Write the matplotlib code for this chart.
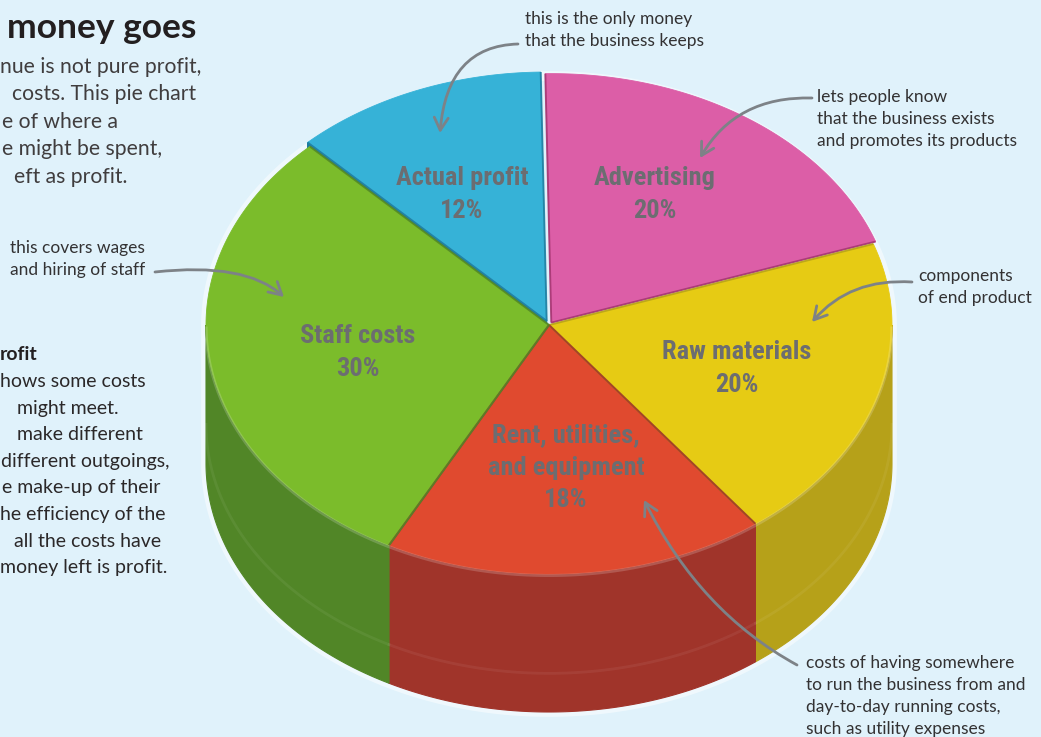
import numpy as np
import matplotlib
matplotlib.use("Agg")
import matplotlib.pyplot as plt
from matplotlib.patches import Polygon, FancyArrowPatch
from matplotlib.path import Path
from matplotlib import font_manager

# ---- data -------------------------------------------------------------
categories = ["Actual profit", "Advertising", "Raw materials",
              "Rent, utilities,\nand equipment", "Staff costs"]
shares = [12, 20, 20, 18, 30]          # percent of revenue
top_colors = ["#36B2D7", "#DC5EA7", "#E6CB14", "#E04A2F", "#7BBC2B"]
side_colors = ["#1F7C9E", "#A3346F", "#B6A119", "#A0342A", "#518627"]
explode_px = [6, 4, 0, 0, 0]

title_text = "money goes"
intro_lines = ["nue is not pure profit,", "costs. This pie chart",
               "e of where a", "e might be spent,", "eft as profit."]
intro_x = [0, 12, 2, 2, 14]
body_head = "rofit"
body_lines = ["hows some costs", " might meet.", " make different",
              "different outgoings,", "e make-up of their",
              "he efficiency of the", " all the costs have",
              "money left is profit."]
body_x = [0, 12, 12, 1, 2, 0, 9, 0]

notes = [
    (["this is the only money", "that the business keeps"], 525, 24),
    (["lets people know", "that the business exists",
      "and promotes its products"], 817, 102),
    (["this covers wages", "and hiring of staff"], 10, 253),
    (["components", "of end product"], 918, 281),
    (["costs of having somewhere", "to run the business from and",
      "day-to-day running costs,", "such as utility expenses"], 806, 668),
]
# (start, control, tip) of each pointer curve
pointers = [
    ((518, 44), (447, 46), (440, 133)),
    ((812, 98), (736, 96), (700, 158)),
    ((155, 272), (245, 262), (284, 297)),
    ((912, 282), (850, 278), (812, 322)),
    ((797, 665), (700, 612), (644, 500)),
]
label_pos = [(462, 185), (655, 185), (737, 359), (566, 442), (358, 343)]

# ---- fonts ------------------------------------------------------------
names = {f.name for f in font_manager.fontManager.ttflist}
body_font = "Lato" if "Lato" in names else "Open Sans"
cond_font, cond_stretch = "DejaVu Sans", "condensed"
for cand in ["Roboto Condensed", "Liberation Sans Narrow", "Open Sans Condensed"]:
    if cand in names:
        cond_font, cond_stretch = cand, "normal"
        break

# ---- figure -----------------------------------------------------------
W, H = 1041, 737
BG = "#E0F2FB"
fig = plt.figure(figsize=(W / 100, H / 100), dpi=100, facecolor=BG)
ax = fig.add_axes([0, 0, 1, 1])
ax.set_xlim(0, W)
ax.set_ylim(H, 0)
ax.set_facecolor(BG)
ax.axis("off")

CX, CY = 549, 325
RX, RY = 343, 249
DEPTH = 138
START = 134.2


def proj(theta, r=1.0, z=0.0, off=(0.0, 0.0)):
    t = np.radians(theta)
    return (CX + off[0] + RX * r * np.cos(t),
            CY + off[1] - RY * r * np.sin(t) + z)


def arc(a0, a1, z=0.0, off=(0.0, 0.0), n=160):
    th = np.linspace(a0, a1, n)
    x, y = proj(th, 1.0, z, off)
    return np.column_stack([x, y])


# wedge angles (clockwise from START)
bounds = START - np.concatenate([[0], np.cumsum(shares)]) * 3.6
wedges = []
for i, s in enumerate(shares):
    a0, a1 = bounds[i], bounds[i + 1]
    mid = np.radians((a0 + a1) / 2)
    off = (explode_px[i] * np.cos(mid), -explode_px[i] * np.sin(mid) * RY / RX)
    wedges.append((a0, a1, off))

# soft light halo round the whole solid
halo = np.vstack([arc(0, 180), arc(180, 360, DEPTH)])
ax.add_patch(Polygon(halo, closed=True, facecolor="none", edgecolor="white",
                     lw=7, alpha=0.5, zorder=1, joinstyle="round"))

# outer curved sides (front half only)
for i, (a0, a1, off) in enumerate(wedges):
    lo, hi = max(a1, -180.0), min(a0, 0.0)
    if lo >= hi:
        continue
    top = arc(hi, lo, 0, off)
    bot = arc(lo, hi, DEPTH, off)
    ax.add_patch(Polygon(np.vstack([top, bot]), closed=True,
                         facecolor=side_colors[i], edgecolor=side_colors[i],
                         lw=0.8, zorder=2))
    mid_line = arc(hi, lo, DEPTH * 0.72, off)
    ax.plot(mid_line[:, 0], mid_line[:, 1], color="white", alpha=0.06,
            lw=2, zorder=2.1)

# cut face of the lifted profit slice, visible next to staff costs
a0, a1, off = wedges[0]
face = [proj(a0, 0.0, 0, off), proj(a0, 1.0, 0, off),
        proj(a0, 1.0, DEPTH, off), proj(a0, 0.0, DEPTH, off)]
ax.add_patch(Polygon(face, closed=True, facecolor=side_colors[0],
                     edgecolor=side_colors[0], lw=0.8, zorder=2.5))

# top faces with darker radial seams
for i, (a0, a1, off) in enumerate(wedges):
    c = np.array(proj(0, 0.0, 0, off))
    pts = np.vstack([c, arc(a0, a1, 0, off)])
    ax.add_patch(Polygon(pts, closed=True, facecolor=top_colors[i],
                         edgecolor=top_colors[i], lw=0.6, zorder=3))
    for a in (a0, a1):
        ox, oy = proj(a, 1.0, 0, off)
        ax.plot([c[0], ox], [c[1], oy], color=side_colors[i], lw=1.4,
                alpha=0.85, zorder=3.1, solid_capstyle="butt")
    lo, hi = max(a1, -180.0), min(a0, 0.0)
    if lo < hi:
        rim = arc(hi, lo, 1.5, off)
        ax.plot(rim[:, 0], rim[:, 1], color="white", alpha=0.18, lw=2.2,
                zorder=3.2, solid_capstyle="butt")

# slice labels
LABEL_GREY = "#6C6D71"
for i, name in enumerate(categories):
    x, y = label_pos[i]
    lines = name.split("\n") + [f"{shares[i]}%"]
    for k, line in enumerate(lines):
        ax.text(x, y + k * 32.5, line, ha="center", va="baseline",
                fontsize=19, fontweight="bold", family=cond_font,
                fontstretch=cond_stretch, color=LABEL_GREY, zorder=5)

# pointers
ARROW_GREY = "#7D8287"
for p0, pc, p1 in pointers:
    path = Path([p0, pc, p1], [Path.MOVETO, Path.CURVE3, Path.CURVE3])
    ax.add_patch(FancyArrowPatch(path=path,
                                 arrowstyle="->,head_length=0.75,head_width=0.42",
                                 mutation_scale=12, lw=2, color=ARROW_GREY,
                                 shrinkA=0, shrinkB=0, zorder=6))

# annotations
TXT = "#333233"
for lines, x, y0 in notes:
    for k, line in enumerate(lines):
        ax.text(x, y0 + k * 22, line, ha="left", va="baseline", fontsize=12.5,
                family=body_font, color=TXT, zorder=7)

# left-hand text column
ax.text(7, 38, title_text, ha="left", va="baseline", fontsize=25.5,
        fontweight="bold", family=body_font, color="#231F20")
for k, line in enumerate(intro_lines):
    ax.text(intro_x[k], 72.5 + k * 27.6, line, ha="left", va="baseline",
            fontsize=15.2, family=body_font, color="#403D3E")
ax.text(0, 360, body_head, ha="left", va="baseline", fontsize=14,
        fontweight="bold", family=body_font, color="#231F20")
for k, line in enumerate(body_lines):
    ax.text(body_x[k], 387 + k * 26.6, line, ha="left", va="baseline",
            fontsize=14, family=body_font, color="#2B2829")

fig.savefig("out.png", dpi=100, facecolor=BG)
